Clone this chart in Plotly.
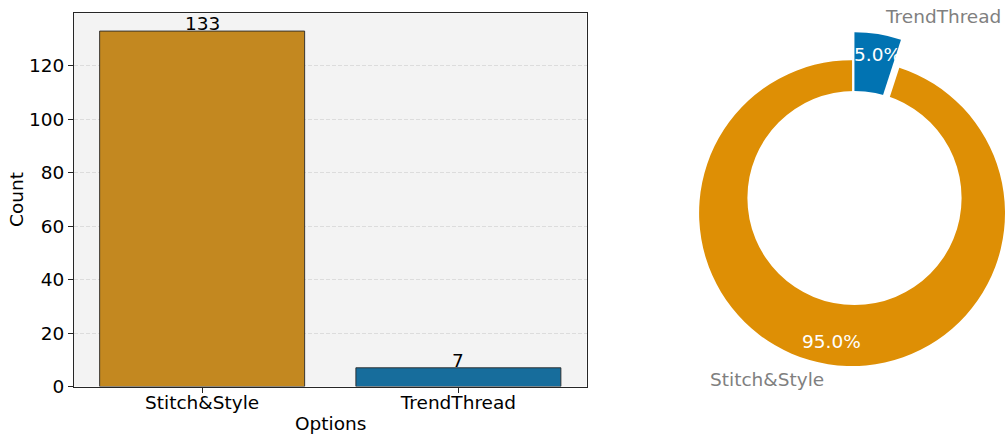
import math
import plotly.graph_objects as go

# Data
categories = ["Stitch&Style", "TrendThread"]
counts = [133, 7]
bar_colors = ["#c38820", "#176d9c"]
pie_colors = ["#de8f05", "#0173b2"]
y_ticks = [0, 20, 40, 60, 80, 100, 120]

W, H = 1005, 434
FONT = "DejaVu Sans"
FS = 18.5

# Bar panel box in pixels (left, right, top, bottom)
bx0, bx1, by_top, by_bot = 74, 586.5, 13.3, 386.5

# Donut geometry in pixels
cx, cy = 854.5, 198
R = 153
explode = 0.1
hole = 0.7
pctdist = 0.85
labeldist = 1.1


def px(x):
    return x / W


def py(y):
    return 1 - y / H


fig = go.Figure()

# ---- bar chart ----
fig.add_trace(go.Bar(
    x=categories, y=counts, width=0.8,
    marker=dict(color=bar_colors, line=dict(color="rgba(40,40,40,0.9)", width=1)),
    showlegend=False, xaxis="x", yaxis="y",
))

annotations = []
for c, v in zip(categories, counts):
    annotations.append(dict(
        x=c, y=v, xref="x", yref="y", text=str(v), showarrow=False,
        xanchor="center", yanchor="bottom", yshift=-5,
        font=dict(family=FONT, size=FS, color="black"),
    ))

annotations.append(dict(
    x=px((bx0 + bx1) / 2), y=py(423), xref="paper", yref="paper", text="Options",
    showarrow=False, xanchor="center", yanchor="middle",
    font=dict(family=FONT, size=FS, color="black"),
))
annotations.append(dict(
    x=px(17), y=py((by_top + by_bot) / 2), xref="paper", yref="paper", text="Count",
    showarrow=False, xanchor="center", yanchor="middle", textangle=-90,
    font=dict(family=FONT, size=FS, color="black"),
))

# ---- exploded donut (slices run counter-clockwise from 12 o'clock) ----
total = sum(counts)
# plotly places the first slice clockwise of `rotation`; rotate so that it
# ends at 12 o'clock and the remaining slices follow counter-clockwise
first_rotation = 360 * (1 - counts[0] / total)
cum = 0
for i, v in enumerate(counts):
    mid = math.radians(90 + (cum + v / 2) / total * 360)
    cum += v
    ocx = cx + explode * R * math.cos(mid)
    ocy = cy - explode * R * math.sin(mid)
    dom_x = [max(0, px(ocx - R)), min(1, px(ocx + R))]
    dom_y = [max(0, py(ocy + R)), min(1, py(ocy - R))]
    colors = [pie_colors[j] if j == i else "rgba(0,0,0,0)" for j in range(len(counts))]
    fig.add_trace(go.Pie(
        values=counts, labels=categories, sort=False,
        direction="counterclockwise", rotation=first_rotation,
        marker=dict(colors=colors, line=dict(width=0)),
        textinfo="none", hoverinfo="label+percent",
        showlegend=False, domain=dict(x=dom_x, y=dom_y),
    ))
    # percentage inside the ring
    tx = ocx + pctdist * R * math.cos(mid)
    ty = ocy - pctdist * R * math.sin(mid)
    annotations.append(dict(
        x=px(tx), y=py(ty), xref="paper", yref="paper",
        text=f"{v / total * 100:.1f}%", showarrow=False,
        xanchor="center", yanchor="middle",
        font=dict(family=FONT, size=FS, color="white"),
    ))
    # category label outside the ring
    lx = ocx + labeldist * R * math.cos(mid)
    ly = ocy - labeldist * R * math.sin(mid)
    annotations.append(dict(
        x=px(lx), y=py(ly), xref="paper", yref="paper",
        text=categories[i], showarrow=False,
        xanchor="left" if math.cos(mid) > 0 else "right", yanchor="middle",
        font=dict(family=FONT, size=FS, color="#808080"),
    ))

# white centre disc
hr = hole * R
shapes = [dict(
    type="circle", xref="paper", yref="paper",
    x0=px(cx - hr), x1=px(cx + hr), y0=py(cy + hr), y1=py(cy - hr),
    fillcolor="white", line=dict(width=0), layer="above",
)]

axis_line = "#262626"
fig.update_layout(
    width=W, height=H,
    margin=dict(l=0, r=0, t=0, b=0),
    paper_bgcolor="white",
    plot_bgcolor="#f3f3f3",
    font=dict(family=FONT, size=FS, color="black"),
    xaxis=dict(
        domain=[px(bx0), px(bx1)], type="category", range=[-0.5, 1.5],
        showline=True, mirror=True, linecolor=axis_line, linewidth=1,
        ticks="outside", ticklen=5, tickwidth=1, tickcolor=axis_line,
        ticklabelstandoff=-6,
        showgrid=False, zeroline=False, automargin=False,
        tickfont=dict(family=FONT, size=FS, color="black"),
    ),
    yaxis=dict(
        domain=[py(by_bot), py(by_top)], range=[0, max(counts) * 1.05],
        tickvals=y_ticks, showline=True, mirror=True, linecolor=axis_line,
        linewidth=1, ticks="outside", ticklen=5, tickwidth=1, tickcolor=axis_line,
        showgrid=True, gridcolor="#dcdcdc", gridwidth=0.8, griddash="4px,2px",
        zeroline=False, automargin=False,
        tickfont=dict(family=FONT, size=FS, color="black"),
    ),
    annotations=annotations,
    shapes=shapes,
)

fig.write_html("out.html")
